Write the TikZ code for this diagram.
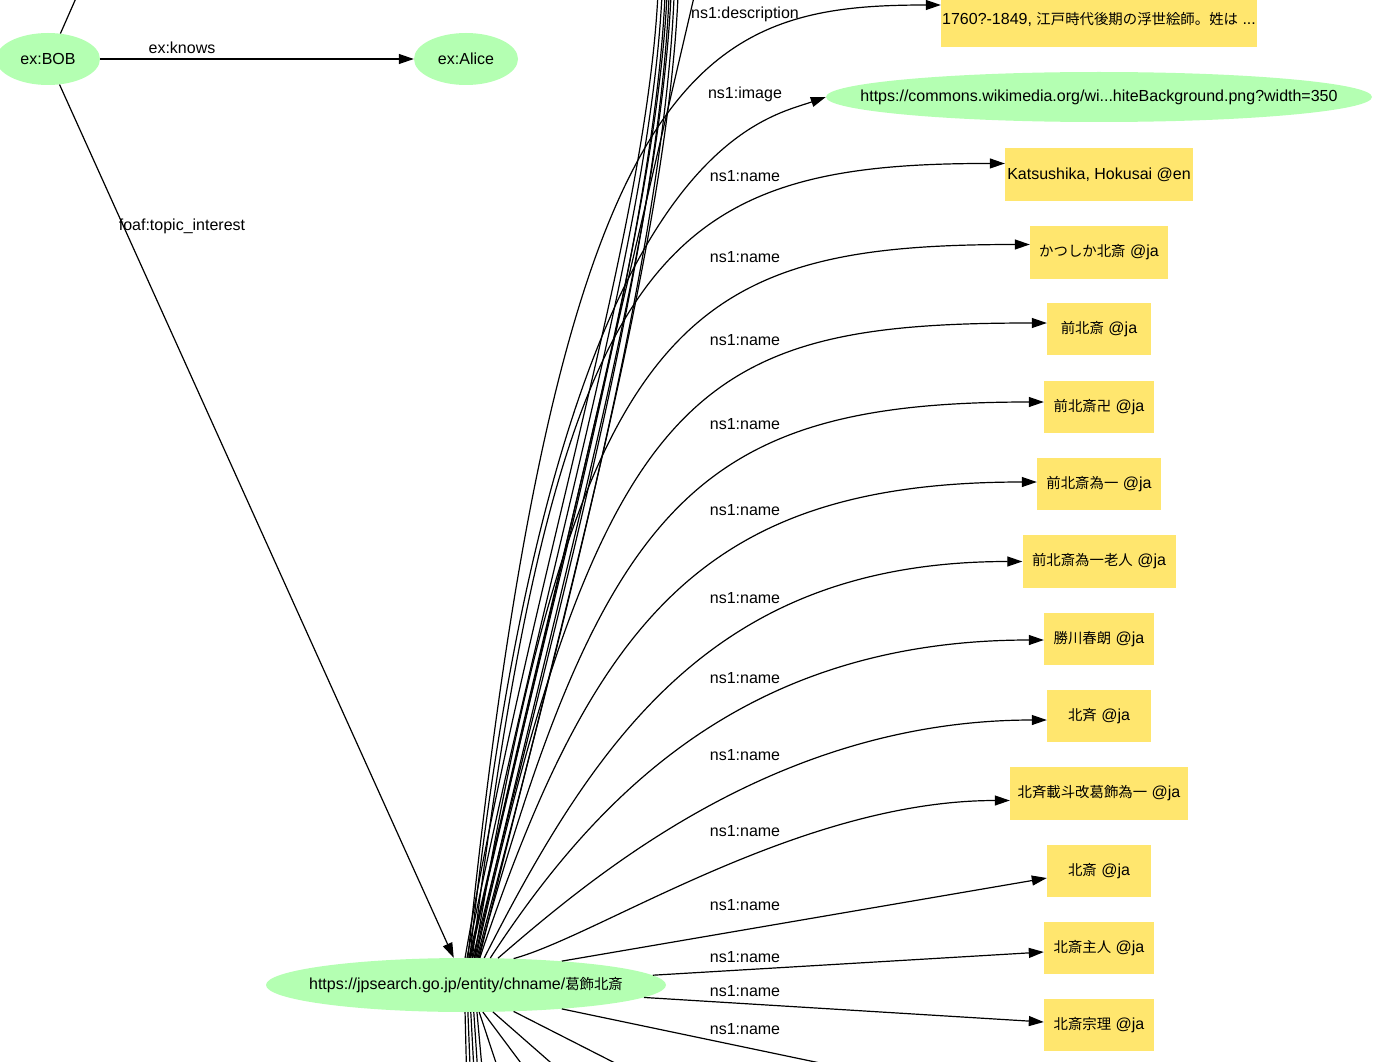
\documentclass[tikz,border=0pt]{standalone}
\usepackage{fontspec}
\setmainfont{Liberation Sans}
\newfontfamily\cjk[Scale=0.9]{Noto Sans CJK JP}
\usetikzlibrary{arrows.meta,calc,shapes.geometric}
\definecolor{nodegreen}{RGB}{180,255,178}
\definecolor{boxyellow}{RGB}{255,230,110}
\begin{document}
\begin{tikzpicture}[x=1pt,y=-1pt,
  every node/.style={font=\fontsize{16}{19}\selectfont},
  res/.style={ellipse,fill=nodegreen,draw=none,inner sep=0pt},
  lit/.style={rectangle,fill=boxyellow,draw=none,inner sep=0pt,minimum height=52pt},
  lbl/.style={inner sep=0pt},
  edge/.style={draw=black,line width=1.2pt,-{Triangle[length=15pt,width=10pt]}},
  link/.style={draw=black,line width=1.2pt}]
\useasboundingbox (0,0) rectangle (1400,1062);
\fill[white] (0,0) rectangle (1400,1062);
\clip (0,0) rectangle (1400,1062);

% resource nodes
\node[res,minimum width=104pt,minimum height=52pt] (Bob) at (48,59) {\makebox[0pt]{ex:BOB}};
\node[res,minimum width=104pt,minimum height=52pt] (Alice) at (466,59) {\makebox[0pt]{ex:Alice}};
\node[res,minimum width=400pt,minimum height=54pt] (C) at (466,985) {\makebox[0pt]{https://jpsearch.go.jp/entity/chname/{\cjk 葛飾北斎}}};
\node[res,minimum width=546pt,minimum height=50pt] (I) at (1099,97) {\makebox[0pt]{https://commons.wikimedia.org/wi...hiteBackground.png?width=350}};

% literal nodes
\node[lit,minimum width=316pt,minimum height=56pt] (D) at (1099,19) {1760?-1849, {\cjk 江戸時代後期の浮世絵師。姓は} ...};
\node[lit,minimum width=188pt,minimum height=53pt] (K) at (1099,174.5) {Katsushika, Hokusai @en};
\node[lit,minimum width=138pt,minimum height=53pt] (N2) at (1099,252.5) {{\cjk かつしか北斎} @ja};
\node[lit,minimum width=104pt] (N3) at (1099,329) {{\cjk 前北斎} @ja};
\node[lit,minimum width=110pt] (N4) at (1099,407) {{\cjk 前北斎卍} @ja};
\node[lit,minimum width=124pt] (N5) at (1099,484) {{\cjk 前北斎為一} @ja};
\node[lit,minimum width=153pt,minimum height=53pt] (N6) at (1099,561.5) {{\cjk 前北斎為一老人} @ja};
\node[lit,minimum width=110pt] (N7) at (1099,639) {{\cjk 勝川春朗} @ja};
\node[lit,minimum width=104pt] (N8) at (1099,716) {{\cjk 北斉} @ja};
\node[lit,minimum width=178pt,minimum height=53pt] (N9) at (1099,793.5) {{\cjk 北斉載斗改葛飾為一} @ja};
\node[lit,minimum width=104pt] (N10) at (1099,871) {{\cjk 北斎} @ja};
\node[lit,minimum width=110pt] (N11) at (1099,948) {{\cjk 北斎主人} @ja};
\node[lit,minimum width=110pt] (N12) at (1099,1025) {{\cjk 北斎宗理} @ja};

% edge labels
\node[lbl] (lk) at (182,48) {ex:knows};
\node[lbl] (lf) at (182,226) {foaf:topic\_interest};
\node[lbl] (l1) at (745,14) {ns1:description};
\node[lbl] (l2) at (745,94) {ns1:image};
\node[lbl] (l3) at (745,176) {ns1:name};
\node[lbl] (l4) at (745,257) {ns1:name};
\node[lbl] (l5) at (745,340) {ns1:name};
\node[lbl] (l6) at (745,424) {ns1:name};
\node[lbl] (l7) at (745,510) {ns1:name};
\node[lbl] (l8) at (745,598) {ns1:name};
\node[lbl] (l9) at (745,678) {ns1:name};
\node[lbl] (l10) at (745,755) {ns1:name};
\node[lbl] (l11) at (745,831) {ns1:name};
\node[lbl] (l12) at (745,905) {ns1:name};
\node[lbl] (l13) at (745,957) {ns1:name};
\node[lbl] (l14) at (745,991) {ns1:name};
\node[lbl] (l15) at (745,1029) {ns1:name};

% off-picture ends
\coordinate (Bt) at (84,-20);
\coordinate (T1) at (659,-40);
\coordinate (T2) at (663,-40);
\coordinate (T3) at (666,-40);
\coordinate (T4) at (668,-40);
\coordinate (T5) at (670,-40);
\coordinate (T6) at (672,-40);
\coordinate (T7) at (675,-40);
\coordinate (T8) at (679,-40);
\coordinate (T11) at (698,-20);
\coordinate (B1) at (467,1090);
\coordinate (B2) at (471,1090);
\coordinate (B3) at (475,1090);
\coordinate (B4) at (479,1090);
\coordinate (B5) at (484,1090);
\coordinate (B8) at (505,1090);
\coordinate (B9) at (541,1090);
\coordinate (B10) at (582,1090);
\coordinate (B11) at (668,1090);
\coordinate (B12) at (949,1090);

% Bob edges
\draw[link] (Bob.64) -- (Bt);
\draw[edge] (Bob) -- (Alice);
\draw[edge] (Bob) -- (C);

% bundle going up out of the picture
\foreach \a/\t/\dx in {92/T1/70,88/T2/80,84/T3/92,80/T4/84,76/T5/100,72/T6/90,68/T7/105,64/T8/98}{
  \draw[link] (C.\a) .. controls ($(C.\a)+(\dx,-400)$) and ($(\t)+(-2,240)$) .. (\t);
}
\draw[link] (C.82) -- (T11);

% bundle going down out of the picture
\foreach \a/\b in {-92/B1,-86/B2,-80/B3,-74/B4,-68/B5,-64/B8,-58/B9,-45/B10,-29/B11}{
  \draw[link] (C.\a) -- (\b);
}
\draw[link] (C.-14) -- (B12);

% fan to the object nodes
\draw[edge] (C.86) .. controls (560,60) and (700,5) .. ($(D.west)+(0,-14)$);
\draw[edge] (C.82) .. controls (555,150) and (760,120) .. (I.west);
\draw[edge] (C.77) .. controls (560,250) and (660,163) .. ($(K.west)+(0,-11)$);
\draw[edge] (C.73) .. controls (581,316) and (684,244.5) .. ($(N2.west)+(0,-8)$);
\draw[edge] (C.70) .. controls (605,379) and (703,323) .. ($(N3.west)+(0,-6)$);
\draw[edge] (C.66) .. controls (605,495) and (703,402) .. ($(N4.west)+(0,-5)$);
\draw[edge] (C.63) .. controls (596,611) and (711,482) .. ($(N5.west)+(0,-2)$);
\draw[edge] (C.56) .. controls (600,730) and (720,561.5) .. (N6.west);
\draw[edge] (C.48) .. controls (600,790) and (750,640) .. ($(N7.west)+(0,1)$);
\draw[edge] (C.40) .. controls (600,870) and (780,720) .. ($(N8.west)+(0,4)$);
\draw[edge] (C.29) .. controls (600,935) and (800,800.5) .. ($(N9.west)+(0,7)$);
\draw[edge] (C.14) -- ($(N10.west)+(0,7)$);
\draw[edge] (C.3) -- ($(N11.west)+(0,4)$);
\draw[edge] (C.-4) -- ($(N12.west)+(0,-3)$);
\end{tikzpicture}
\end{document}
